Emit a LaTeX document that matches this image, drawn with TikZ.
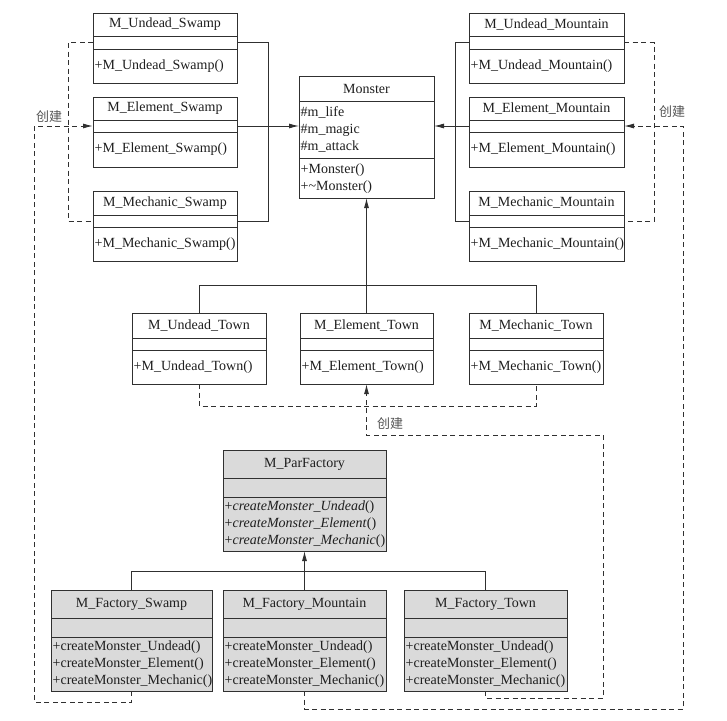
\documentclass[tikz,border=0pt]{standalone}
\usepackage{fontspec}
\setmainfont{Liberation Serif}
\newfontfamily\cjk{Noto Sans CJK SC}
\usetikzlibrary{arrows.meta,calc}
\definecolor{ln}{HTML}{303030}
\definecolor{txt}{HTML}{1E1E1E}
\definecolor{fgray}{HTML}{DADADA}
\definecolor{lblc}{HTML}{555555}
\def\clsfill{white}
\newcommand{\umlcls}[9]{%
  \node[clsbox, fill=\clsfill, minimum width={#4-#2}, minimum height={#5-#3}, anchor=north west] (#1) at (#2,#3) {};
  \draw[boxline] (#2,#6) -- (#4,#6);
  \draw[boxline] (#2,#7) -- (#4,#7);
  \coordinate (#1-l) at (#2,{(#6+#7)/2});
  \coordinate (#1-r) at (#4,{(#6+#7)/2});
  \node[ttl] (#1-t) at ({(#2+#4)/2},{(#3+#6)/2}) {#8};
  \node[body] (#1-b) at (#2,{(#7+#5)/2}) {#9};
}
\begin{document}
\begin{tikzpicture}[x=1pt,y=-1pt,
  clsbox/.style={draw=ln, line width=0.9pt, rectangle, inner sep=0pt, outer sep=0pt},
  boxline/.style={draw=ln, line width=0.9pt},
  ttl/.style={text=txt, font=\fontsize{14}{17}\selectfont, inner sep=0pt},
  body/.style={text=txt, font=\fontsize{14}{17}\selectfont, anchor=west, align=left, inner sep=1.5pt},
  gen/.style={draw=ln, line width=0.9pt},
  inh/.style={draw=ln, line width=0.9pt, -{Latex[length=10pt,width=5pt]}},
  dep/.style={draw=ln, line width=1pt, dash pattern=on 5pt off 3.5pt},
  deparr/.style={dep, -{Latex[length=10pt,width=5pt]}},
  lbl/.style={text=lblc, font=\cjk\fontsize{13}{15}\selectfont, inner sep=0pt}
]
\useasboundingbox (0,0) rectangle (727,720);

% ---- Swamp classes
\umlcls{us}{93}{13}{237}{83}{36}{49}{M\_Undead\_Swamp}{+M\_Undead\_Swamp()}
\umlcls{es}{93}{97}{237}{167}{120}{132}{M\_Element\_Swamp}{+M\_Element\_Swamp()}
\umlcls{ms}{93}{191}{237}{261}{215}{227}{M\_Mechanic\_Swamp}{+M\_Mechanic\_Swamp()}

% ---- Mountain classes
\umlcls{um}{469}{13}{624}{83}{36}{49}{M\_Undead\_Mountain}{+M\_Undead\_Mountain()}
\umlcls{em}{469}{97}{624}{167}{120}{132}{M\_Element\_Mountain}{+M\_Element\_Mountain()}
\umlcls{mm}{469}{191}{624}{261}{215}{227}{M\_Mechanic\_Mountain}{+M\_Mechanic\_Mountain()}

% ---- Town classes
\umlcls{ut}{132}{313}{266}{384}{338}{350}{M\_Undead\_Town}{+M\_Undead\_Town()}
\umlcls{et}{300}{313}{433}{384}{338}{350}{M\_Element\_Town}{+M\_Element\_Town()}
\umlcls{mt}{469}{313}{603}{384}{338}{350}{M\_Mechanic\_Town}{+M\_Mechanic\_Town()}

% ---- Monster
\node[clsbox, fill=white, minimum width=135, minimum height=122, anchor=north west] (mon) at (299,76) {};
\draw[boxline] (299,101) -- (434,101);
\draw[boxline] (299,158) -- (434,158);
\node[ttl] (mon-t) at (366.5,88.5) {Monster};
\node[body] (mon-a) at (299,129.5) {\#m\_life\\\#m\_magic\\\#m\_attack};
\node[body] (mon-m) at (299,178.5) {+Monster()\\+\textasciitilde Monster()};

% ---- Factories
\def\clsfill{fgray}
\umlcls{pf}{223}{450}{386}{551}{478}{497}{M\_ParFactory}{+\textit{createMonster\_Undead}()\\+\textit{createMonster\_Element}()\\+\textit{createMonster\_Mechanic}()}
\umlcls{fs}{51}{590}{212}{691}{618}{637}{M\_Factory\_Swamp}{+createMonster\_Undead()\\+createMonster\_Element()\\+createMonster\_Mechanic()}
\umlcls{fm}{223}{590}{386}{691}{618}{637}{M\_Factory\_Mountain}{+createMonster\_Undead()\\+createMonster\_Element()\\+createMonster\_Mechanic()}
\umlcls{ft}{404}{590}{567}{691}{618}{637}{M\_Factory\_Town}{+createMonster\_Undead()\\+createMonster\_Element()\\+createMonster\_Mechanic()}

% ---- junction coordinates
\coordinate (jSw) at (268,126);
\coordinate (jMt) at (455,126);
\coordinate (dSw) at (68,126);
\coordinate (dMt) at (654,126);
\coordinate (cSw) at (34,126);
\coordinate (cMt) at (683,126);
\coordinate (cTw) at (603,435);

% ---- inheritance: swamp
\draw[gen] (us-r) -- (us-r -| jSw) -- (ms-r -| jSw) -- (ms-r);
\draw[inh] (es-r) -- (mon.west |- es-r);
% ---- inheritance: mountain
\draw[gen] (um-l) -- (um-l -| jMt) -- (mm-l -| jMt) -- (mm-l);
\draw[inh] (em-l) -- (mon.east |- em-l);
% ---- inheritance: town
\draw[gen] (ut.north) -- ++(0,-28) -| (mt.north);
\draw[inh] (et.north) -- (mon.south);
% ---- inheritance: factories
\draw[gen] (fs.north) -- ++(0,-19) -| (ft.north);
\draw[inh] (fm.north) -- (pf.south);

% ---- dashed groupings
\draw[dep] (us-l) -- (us-l -| dSw) -- (ms-l -| dSw) -- (ms-l);
\draw[dep] (um-r) -- (um-r -| dMt) -- (mm-r -| dMt) -- (mm-r);
\draw[dep] (ut.south) -- ++(0,22) -| (mt.south);

% ---- creation dependencies
\draw[deparr] (fs.south) -- ++(0,11) -| (cSw) -- (es-l);
\draw[deparr] (fm.south) -- ++(0,18) -| (cMt) -- (em-r);
\draw[deparr] (ft.south) -- ++(0,7) -| (cTw) -| (et.south);

% ---- labels
\node[lbl] (l1) at (49,117) {创建};
\node[lbl] (l2) at (672,112) {创建};
\node[lbl] (l3) at (390,424) {创建};
\end{tikzpicture}
\end{document}
